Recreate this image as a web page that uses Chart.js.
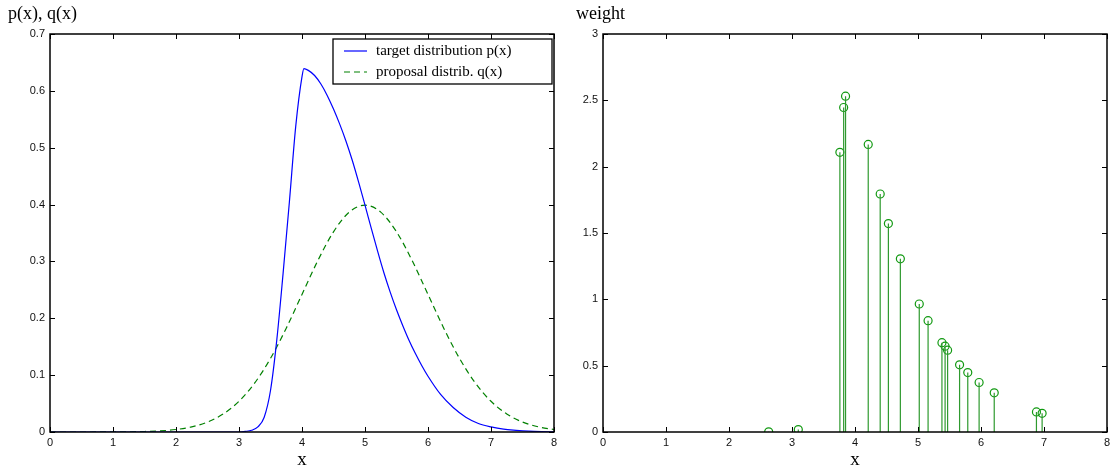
<!DOCTYPE html>
<html>
<head>
<meta charset="utf-8">
<script src="https://cdn.jsdelivr.net/npm/chart.js@4.4.0/dist/chart.umd.min.js"></script>
<style>
  body { margin: 0; background: #fff; }
  #wrap { position: relative; width: 1114px; height: 471px; }
  .box { position: absolute; top: 0; height: 471px; }
  .lbl { position: absolute; font-family: "Liberation Serif", "Times New Roman", serif; font-size: 18px; color: #000; }
</style>
</head>
<body>
<div id="wrap">
  <div class="box" style="left:0;width:557px"><canvas id="left"></canvas></div>
  <div class="box" style="left:557px;width:557px"><canvas id="right"></canvas></div>
  <div class="lbl" style="left:8px;top:3px">p(x), q(x)</div>
  <div class="lbl" style="left:576px;top:3px">weight</div>
</div>
<script>
// target distribution p(x)
const pX = [0, 3.0, 3.1, 3.2, 3.3, 3.4, 3.5, 3.6, 3.7, 3.8, 3.9, 4.0, 4.03, 4.1, 4.2, 4.3, 4.4, 4.5, 4.6, 4.7,
  4.8, 4.9, 5.0, 5.1, 5.2, 5.3, 5.4, 5.5, 5.6, 5.7, 5.8, 5.9, 6.0, 6.2, 6.4, 6.6, 6.8, 7.0, 7.2, 7.4, 7.6, 7.8, 8.0];
const pY = [0, 0, 0.001, 0.003, 0.009, 0.026, 0.073, 0.162, 0.279, 0.405, 0.537, 0.625, 0.639, 0.636, 0.627, 0.612,
  0.592, 0.568, 0.541, 0.511, 0.477, 0.439, 0.399, 0.358, 0.318, 0.280, 0.246, 0.215, 0.187, 0.161, 0.138, 0.117,
  0.098, 0.066, 0.043, 0.026, 0.015, 0.009, 0.005, 0.003, 0.0015, 0.0007, 0.0003];

// proposal distribution q(x)
const qX = [0, 0.25, 0.5, 0.75, 1, 1.25, 1.5, 1.75, 2, 2.25, 2.5, 2.75, 3, 3.25, 3.5, 3.75, 4, 4.25, 4.5, 4.75,
  5, 5.25, 5.5, 5.75, 6, 6.25, 6.5, 6.75, 7, 7.25, 7.5, 7.75, 8];
const qY = [0, 0.00001, 0.00002, 0.00005, 0.00013, 0.00035, 0.0009, 0.002, 0.0044, 0.0091, 0.0175, 0.0317,
  0.054, 0.0863, 0.1295, 0.1826, 0.242, 0.3011, 0.3521, 0.3867, 0.3989, 0.3867, 0.3521, 0.3011, 0.242,
  0.1826, 0.1295, 0.0863, 0.054, 0.0317, 0.0175, 0.0091, 0.0044];

// sample weights
const wX = [2.63, 3.10, 3.76, 3.82, 3.85, 4.21, 4.40, 4.53, 4.72, 5.02, 5.16, 5.38, 5.43, 5.47, 5.66, 5.79, 5.97, 6.21, 6.88, 6.97];
const wY = [0.001, 0.018, 2.108, 2.446, 2.531, 2.168, 1.794, 1.571, 1.305, 0.965, 0.839, 0.673, 0.647, 0.617,
  0.506, 0.448, 0.373, 0.295, 0.151, 0.141];

const BLUE = "#0000ff";
const GREEN = "#008000";
const tickFont = { family: "Liberation Sans, Arial, sans-serif", size: 11 };
const serif = "Liberation Serif, Times New Roman, serif";

// box around the plot and inward ticks on all four sides
const frame = {
  id: "frame",
  afterDatasetsDraw(chart) {
    const { ctx, chartArea: a, scales: { x, y } } = chart;
    ctx.save();
    ctx.strokeStyle = "#000";
    ctx.lineWidth = 1;
    ctx.beginPath();
    x.ticks.forEach(t => {
      const px = Math.round(x.getPixelForValue(t.value)) + 0.5;
      ctx.moveTo(px, a.bottom); ctx.lineTo(px, a.bottom - 5);
      ctx.moveTo(px, a.top); ctx.lineTo(px, a.top + 5);
    });
    y.ticks.forEach(t => {
      const py = Math.round(y.getPixelForValue(t.value)) + 0.5;
      ctx.moveTo(a.left, py); ctx.lineTo(a.left + 5, py);
      ctx.moveTo(a.right, py); ctx.lineTo(a.right - 5, py);
    });
    ctx.stroke();
    ctx.lineWidth = 1.5;
    ctx.strokeRect(a.left, a.top, a.width, a.height);
    ctx.restore();
  }
};

// boxed legend in the upper right corner
const boxLegend = {
  id: "boxLegend",
  afterDraw(chart) {
    const { ctx, chartArea: a } = chart;
    const w = 219, h = 45;
    const left = a.right - 2 - w, top = a.top + 5;
    ctx.save();
    ctx.fillStyle = "#fff";
    ctx.fillRect(left, top, w, h);
    ctx.strokeStyle = "#000";
    ctx.lineWidth = 1.3;
    ctx.strokeRect(left, top, w, h);
    ctx.font = "15px " + serif;
    ctx.textBaseline = "middle";
    chart.data.datasets.forEach((ds, i) => {
      const cy = top + 12 + i * 21;
      ctx.strokeStyle = ds.borderColor;
      ctx.lineWidth = 1.2;
      ctx.setLineDash(ds.borderDash || []);
      ctx.beginPath();
      ctx.moveTo(left + 11, cy); ctx.lineTo(left + 34, cy);
      ctx.stroke();
      ctx.setLineDash([]);
      ctx.fillStyle = "#000";
      ctx.fillText(ds.label, left + 43, cy);
    });
    ctx.restore();
  }
};

const fmt = v => String(Math.round(v * 100) / 100);

function axes(yMax, yStep, yWidth) {
  return {
    x: {
      type: "linear", min: 0, max: 8,
      ticks: { stepSize: 1, font: tickFont, color: "#111", padding: 4, maxRotation: 0, callback: fmt },
      grid: { display: false, drawTicks: false },
      border: { display: false },
      title: { display: true, text: "x", font: { family: serif, size: 19 }, color: "#000", padding: { top: 1, bottom: 0 } },
      afterFit: s => { s.height = 39; s.paddingLeft = 0; s.paddingRight = 0; }
    },
    y: {
      type: "linear", min: 0, max: yMax,
      ticks: { stepSize: yStep, font: tickFont, color: "#111", padding: 5, callback: fmt },
      grid: { display: false, drawTicks: false },
      border: { display: false },
      afterFit: s => { s.width = yWidth; s.paddingTop = 0; s.paddingBottom = 0; }
    }
  };
}

new Chart(document.getElementById("left"), {
  type: "line",
  data: {
    datasets: [
      {
        label: "target distribution p(x)",
        data: pX.map((x, i) => ({ x, y: pY[i] })),
        borderColor: BLUE, borderWidth: 1.2, pointRadius: 0,
        cubicInterpolationMode: "monotone"
      },
      {
        label: "proposal distrib. q(x)",
        data: qX.map((x, i) => ({ x, y: qY[i] })),
        borderColor: GREEN, borderWidth: 1.2, borderDash: [6, 4], pointRadius: 0,
        cubicInterpolationMode: "monotone"
      }
    ]
  },
  options: {
    responsive: true, maintainAspectRatio: false, animation: false,
    layout: { padding: { top: 34, right: 3, left: 0, bottom: 0 } },
    plugins: { legend: { display: false }, tooltip: { enabled: false } },
    scales: axes(0.7, 0.1, 50)
  },
  plugins: [frame, boxLegend]
});

// stems: (x,0) -> (x,w), broken by a null between samples
const stemData = [];
wX.forEach((x, i) => {
  stemData.push({ x, y: 0 }, { x, y: wY[i] }, { x, y: null });
});

new Chart(document.getElementById("right"), {
  type: "line",
  data: {
    datasets: [
      {
        label: "stems",
        data: stemData,
        borderColor: "#2f9a2f", borderWidth: 1.2, pointRadius: 0, spanGaps: false
      },
      {
        label: "weight",
        data: wX.map((x, i) => ({ x, y: wY[i] })),
        showLine: false, pointStyle: "circle", pointRadius: 4,
        pointBorderColor: "#119911", pointBackgroundColor: "rgba(255,255,255,0)", pointBorderWidth: 1.2
      }
    ]
  },
  options: {
    responsive: true, maintainAspectRatio: false, animation: false,
    layout: { padding: { top: 34, right: 7, left: 0, bottom: 0 } },
    plugins: { legend: { display: false }, tooltip: { enabled: false } },
    scales: axes(3, 0.5, 46)
  },
  plugins: [frame]
});
</script>
</body>
</html>
